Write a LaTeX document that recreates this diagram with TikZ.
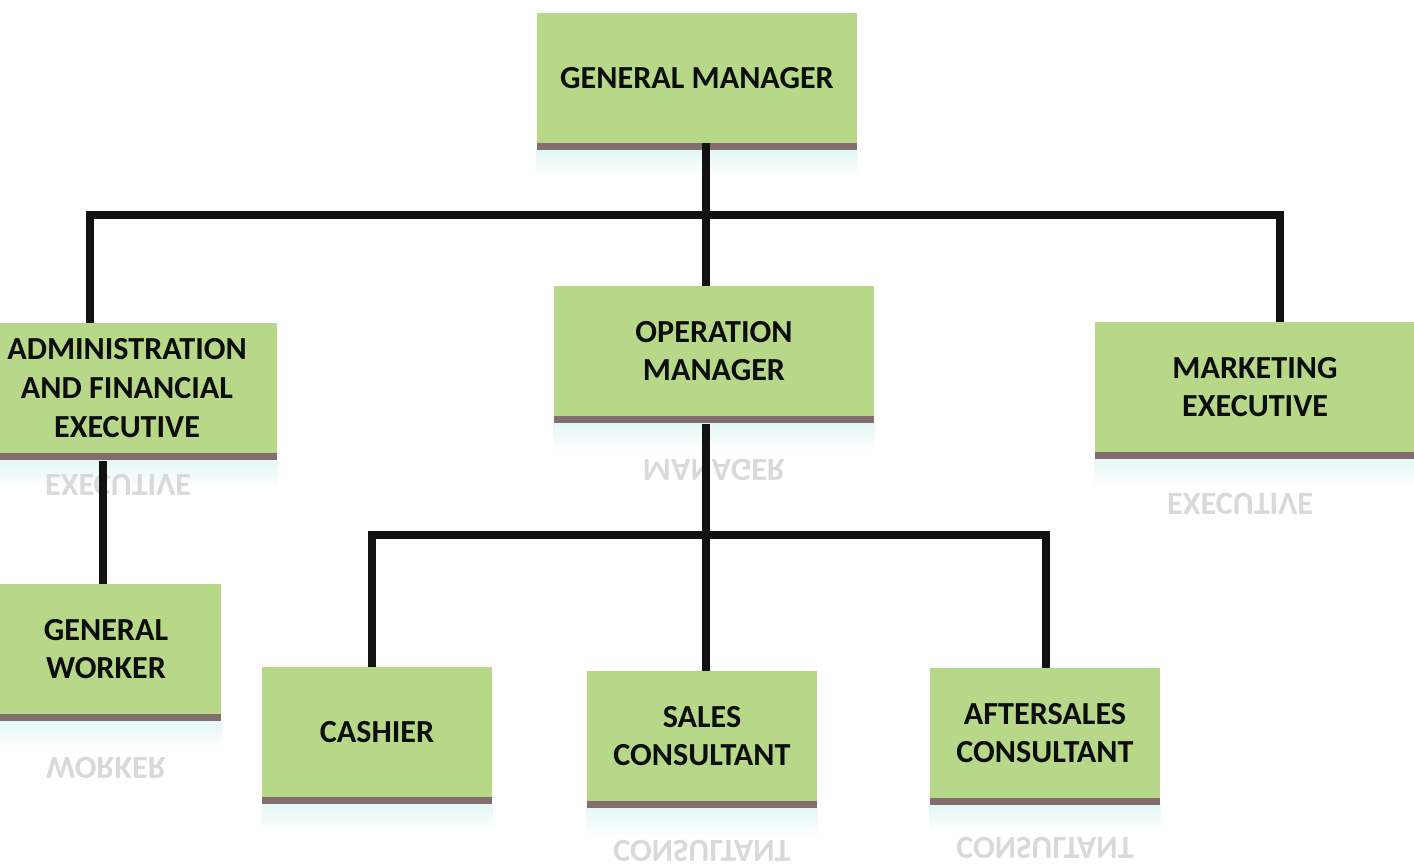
\documentclass[tikz,border=0pt]{standalone}
\usepackage{fontspec}
\usepackage{graphicx}
\setmainfont{Carlito}
\usetikzlibrary{shadows}

\definecolor{boxgreen}{RGB}{182,216,136}
\definecolor{shadebrown}{RGB}{118,94,96}
\definecolor{linkblack}{RGB}{18,18,18}
\definecolor{haze}{RGB}{228,248,245}
\newcommand\postfont{\fontsize{18.3}{22.1}\selectfont\bfseries}
\newcommand\flipped[1]{\scalebox{1}[-1]{#1}}

\begin{document}
\begin{tikzpicture}[x=0.02cm,y=-0.02cm,
			post/.style={rectangle,fill=boxgreen,inner sep=0pt,minimum height=2.6cm,
				align=center,font=\postfont,text=black!95,
				drop shadow={shadow xshift=0pt,shadow yshift=-0.15cm,fill=shadebrown,opacity=0.9}},
			wide post/.style={post,minimum width=6.4cm},
			narrow post/.style={post,minimum width=4.6cm},
			mirror/.style={font=\postfont,text=black!15,inner sep=0pt},
			link/.style={draw=linkblack,line width=4pt}]
			\useasboundingbox[fill=white] (0,0) rectangle (1414,866);

			% the boxes
			\node[wide post] (gm) at (697,78) {GENERAL MANAGER};
			\node[wide post,minimum width=6cm] (admin) at (127,388) {ADMINISTRATION\\AND FINANCIAL\\EXECUTIVE};
			\node[wide post] (om) at (714,351) {OPERATION\\MANAGER};
			\node[wide post] (mkt) at (1255,387) {MARKETING\\EXECUTIVE};
			\node[narrow post] (worker) at (106,649) {GENERAL\\WORKER};
			\node[narrow post] (cashier) at (377,732) {CASHIER};
			\node[narrow post] (sales) at (702,736) {SALES\\CONSULTANT};
			\node[narrow post] (after) at (1045,733) {AFTERSALES\\CONSULTANT};

			% pale glow under each box
			\foreach \b in {gm,admin,om,mkt,worker,cashier,sales,after}
				\fill[top color=haze,bottom color=white]
					([yshift=-0.15cm]\b.south west) rectangle ([yshift=-0.7cm]\b.south east);

			% reflections of the last line
			\node[mirror] (admin r) at (118,485) {\flipped{EXECUTIVE}};
			\node[mirror] (om r) at (714,470) {\flipped{MANAGER}};
			\node[mirror] (mkt r) at (1240,504) {\flipped{EXECUTIVE}};
			\node[mirror] (worker r) at (106,768) {\flipped{WORKER}};
			\node[mirror] (sales r) at (702,851) {\flipped{CONSULTANT}};
			\node[mirror] (after r) at (1045,848) {\flipped{CONSULTANT}};

			% top level
			\coordinate (trunk) at (706,215);
			\coordinate (bar west) at (90,215);
			\coordinate (bar east) at (1280,215);
			\draw[link] (gm.south -| trunk) -- (om.north -| trunk);
			\draw[link] (bar west |- admin.north) -- (bar west) -- (bar east) -- (bar east |- mkt.north);
			\coordinate (admin drop) at (103,458);
			\draw[link] ([yshift=-0.15cm]admin.south -| admin drop) -- (worker.north -| admin drop);

			% under the operation manager
			\coordinate (low bar) at (706,535);
			\coordinate (low west) at (372,535);
			\coordinate (low east) at (1046,535);
			\draw[link] ([yshift=-0.15cm]om.south -| low bar) -- (sales.north -| low bar);
			\draw[link] (low west |- cashier.north) -- (low west) -- (low east) -- (low east |- after.north);
		\end{tikzpicture}
\end{document}
